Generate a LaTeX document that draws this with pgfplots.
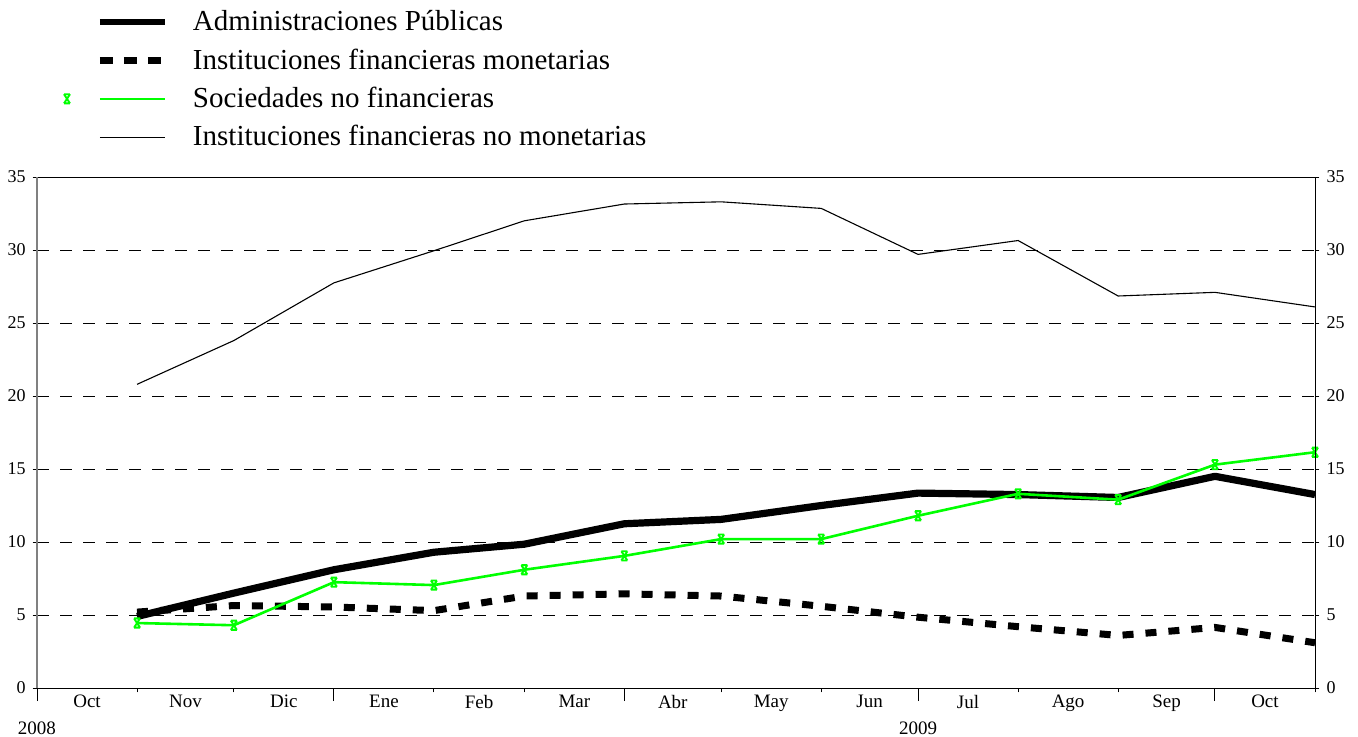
\documentclass[border=0pt]{standalone}
\usepackage{fontspec}
\setmainfont{Liberation Serif}
\usepackage{pgfplots}
\pgfplotsset{compat=1.18}
\definecolor{vg}{RGB}{0,255,0}
\pgfdeclareplotmark{xbar}{%
 \pgfpathmoveto{\pgfqpoint{-0.65\pgfplotmarksize}{-\pgfplotmarksize}}%
 \pgfpathlineto{\pgfqpoint{0.65\pgfplotmarksize}{\pgfplotmarksize}}%
 \pgfpathmoveto{\pgfqpoint{-0.65\pgfplotmarksize}{\pgfplotmarksize}}%
 \pgfpathlineto{\pgfqpoint{0.65\pgfplotmarksize}{-\pgfplotmarksize}}%
 \pgfpathmoveto{\pgfqpoint{-0.65\pgfplotmarksize}{\pgfplotmarksize}}%
 \pgfpathlineto{\pgfqpoint{0.65\pgfplotmarksize}{\pgfplotmarksize}}%
 \pgfpathmoveto{\pgfqpoint{-0.65\pgfplotmarksize}{-\pgfplotmarksize}}%
 \pgfpathlineto{\pgfqpoint{0.65\pgfplotmarksize}{-\pgfplotmarksize}}%
 \pgfusepathqstroke}
\begin{document}
\begin{tikzpicture}
\useasboundingbox (-18.5pt,-24pt) rectangle (660.5pt,344pt);
\begin{axis}[
 at={(0,0)}, anchor=south west,
 scale only axis, width=639pt, height=255.5pt,
 xmin=0, xmax=396, ymin=0, ymax=35,
 axis line style={line width=0.5pt},
 tick style={line width=0.5pt, black},
 tick align=outside,
 major tick length=2.2pt,
 minor tick length=6.5pt,
 xtick pos=bottom, ytick pos=left,
 xtick={31,61,123,151,212,243,304,335,396},
 xticklabels={},
 minor xtick={0,92,182,273,365},
 extra x ticks={15.5,46,76.5,107.5,137,166.5,197,227.5,258,288.5,319.5,350,380.5},
 extra x tick labels={Oct,Nov,Dic,Ene,Feb,Mar,Abr,May,Jun,Jul,Ago,Sep,Oct},
 extra x tick style={major tick length=0pt, tick style={draw=none}, grid=none},
 x tick label style={font=\fontsize{9.5}{11}\selectfont},
 ytick={0,5,...,35},
 y tick label style={font=\fontsize{9}{11}\selectfont},
 /pgf/number format/assume math mode=true,
 ymajorgrids,
 grid style={black, line width=0.5pt, dash pattern=on 6pt off 5.5pt},
 clip=false,
 legend style={at={(axis description cs:0,1)}, anchor=south west, xshift=12pt, yshift=10.3pt,
   draw=none, fill=none, inner sep=0pt, outer sep=0pt,
   font=\fontsize{14.5}{17}\selectfont,
   nodes={inner xsep=0pt, inner ysep=0pt, minimum height=19.2pt},
   row sep=0pt, column sep=0pt},
 legend cell align=left,
]
\addplot[black, line width=3.6pt, line join=round,
  legend image code/.code={\path[draw=none,fill=none] (-66pt,-3pt) rectangle (0pt,3pt); \draw[black, line width=3.3pt] (-46.5pt,0pt) -- (-14pt,0pt);}]
 coordinates {(31,4.9) (61,6.5) (92,8.1) (123,9.3) (151,9.85) (182,11.25) (212,11.55) (243,12.5) (273,13.35) (304,13.25) (335,13.05) (365,14.5) (396,13.25)};
\addlegendentry{Administraciones Públicas}
\addplot[black, line width=3.5pt, dash pattern=on 5.5pt off 6pt,
  legend image code/.code={\path[draw=none,fill=none] (-66pt,-3pt) rectangle (0pt,3pt); \draw[black, line width=3.4pt, dash pattern=on 6.5pt off 5.5pt] (-46.5pt,0pt) -- (-14pt,0pt);}]
 coordinates {(31,5.2) (61,5.65) (92,5.55) (123,5.3) (151,6.3) (182,6.45) (212,6.3) (243,5.6) (273,4.85) (304,4.2) (335,3.6) (365,4.15) (396,3.1)};
\addlegendentry{Instituciones financieras monetarias}
\addplot[vg, line width=1.3pt, mark=xbar, mark size=2.3pt, mark options={line width=0.95pt, solid},
  legend image code/.code={\path[draw=none,fill=none] (-66pt,-3pt) rectangle (0pt,3pt); \draw[vg, line width=1.3pt] (-46.5pt,0pt) -- (-14pt,0pt); \draw[vg, line width=0.95pt, mark=xbar, mark size=2.3pt] plot coordinates {(-63pt,0pt)};}]
 coordinates {(31,4.45) (61,4.3) (92,7.25) (123,7.05) (151,8.1) (182,9.05) (212,10.2) (243,10.2) (273,11.8) (304,13.3) (335,12.9) (365,15.3) (396,16.15)};
\addlegendentry{Sociedades no financieras}
\addplot[black, line width=0.55pt,
  legend image code/.code={\path[draw=none,fill=none] (-66pt,-3pt) rectangle (0pt,3pt); \draw[black, line width=0.55pt] (-46.5pt,0pt) -- (-14pt,0pt);}]
 coordinates {(31,20.8) (61,23.8) (92,27.75) (123,29.95) (151,32.0) (182,33.15) (212,33.3) (243,32.85) (273,29.7) (304,30.65) (335,26.85) (365,27.1) (396,26.1)};
\addlegendentry{Instituciones financieras no monetarias}
\draw[gray, line width=0.6pt] (rel axis cs:0,0) -- (rel axis cs:0,1);
\node[font=\fontsize{9.5}{11}\selectfont, anchor=base] at (axis cs:0,0) [yshift=-23.3pt] {2008};
\node[font=\fontsize{9.5}{11}\selectfont, anchor=base] at (axis cs:273,0) [yshift=-23.3pt] {2009};
\end{axis}
\begin{axis}[
 at={(0,0)}, anchor=south west,
 scale only axis, width=639pt, height=255.5pt,
 xmin=0, xmax=396, ymin=0, ymax=35,
 axis x line=none, axis y line*=right,
 axis line style={line width=0.5pt, -},
 tick style={line width=0.5pt, black},
 tick align=outside, major tick length=2.2pt,
 ytick={0,5,...,35},
 y tick label style={font=\fontsize{9}{11}\selectfont},
 /pgf/number format/assume math mode=true,
]
\end{axis}
\end{tikzpicture}
\end{document}
